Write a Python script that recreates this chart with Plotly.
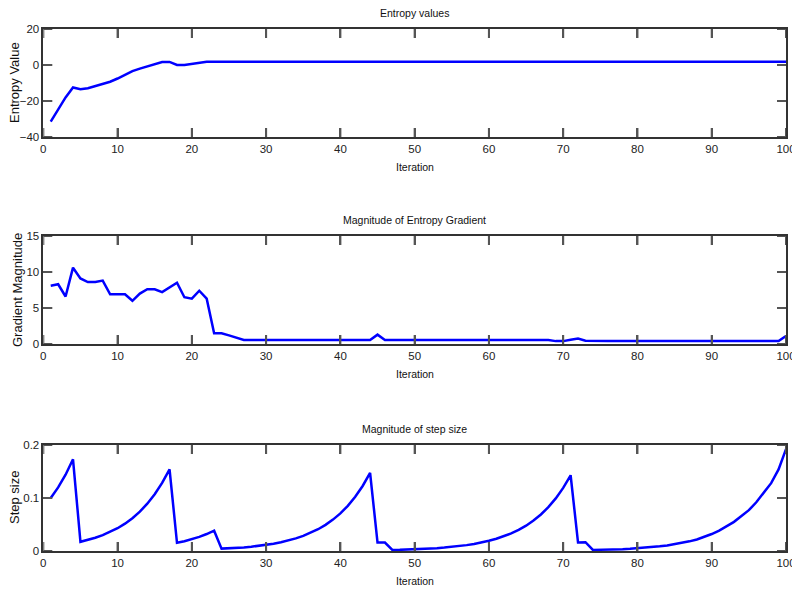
import plotly.graph_objects as go

# Optimisation trace: 100 iterations
iterations = list(range(1, 101))

entropy_values = [
    -31.5, -24.5, -18.0, -12.5, -13.5, -12.9, -11.7, -10.6, -9.3, -7.5,
    -5.6, -3.4, -2.0, -0.8, 0.5, 1.6, 1.7, 0.0, 0.0, 0.7,
    1.3, 1.8, 1.8, 1.8, 1.8, 1.8, 1.8, 1.8, 1.8, 1.8,
    1.8, 1.8, 1.8, 1.8, 1.8, 1.8, 1.8, 1.8, 1.8, 1.8,
    1.8, 1.8, 1.8, 1.8, 1.8, 1.8, 1.8, 1.8, 1.8, 1.8,
    1.8, 1.8, 1.8, 1.8, 1.8, 1.8, 1.8, 1.8, 1.8, 1.8,
    1.8, 1.8, 1.8, 1.8, 1.8, 1.8, 1.8, 1.8, 1.8, 1.8,
    1.8, 1.8, 1.8, 1.8, 1.8, 1.8, 1.8, 1.8, 1.8, 1.8,
    1.8, 1.8, 1.8, 1.8, 1.8, 1.8, 1.8, 1.8, 1.8, 1.8,
    1.8, 1.8, 1.8, 1.8, 1.8, 1.8, 1.8, 1.8, 1.8, 1.8,
]

gradient_magnitude = [
    8.1, 8.3, 6.6, 10.6, 9.1, 8.6, 8.6, 8.8, 6.9, 6.9,
    6.9, 6.0, 7.0, 7.6, 7.6, 7.2, 7.9, 8.5, 6.5, 6.3,
    7.4, 6.3, 1.5, 1.5, 1.2, 0.85, 0.55, 0.55, 0.55, 0.55,
    0.55, 0.55, 0.55, 0.55, 0.55, 0.55, 0.55, 0.55, 0.55, 0.55,
    0.55, 0.55, 0.55, 0.55, 1.3, 0.55, 0.55, 0.55, 0.55, 0.55,
    0.55, 0.55, 0.55, 0.55, 0.55, 0.55, 0.55, 0.55, 0.55, 0.55,
    0.55, 0.55, 0.55, 0.55, 0.55, 0.55, 0.55, 0.55, 0.4, 0.4,
    0.6, 0.75, 0.45, 0.4, 0.4, 0.4, 0.4, 0.4, 0.4, 0.4,
    0.4, 0.4, 0.4, 0.4, 0.4, 0.4, 0.4, 0.4, 0.4, 0.4,
    0.4, 0.4, 0.4, 0.4, 0.4, 0.4, 0.4, 0.4, 0.4, 1.1,
]

step_size = [
    0.1, 0.12, 0.144, 0.173,
    0.0173, 0.0207, 0.0249, 0.0299, 0.0358, 0.043, 0.0516, 0.0619,
    0.0743, 0.0892, 0.107, 0.1284, 0.1541,
    0.0154, 0.0185, 0.0222, 0.0266, 0.032, 0.0384,
    0.0045, 0.005, 0.0058, 0.0068, 0.008, 0.0096, 0.0115, 0.0138,
    0.0165, 0.0198, 0.0238, 0.0285, 0.0343, 0.0411, 0.0493, 0.0592,
    0.071, 0.0852, 0.1023, 0.1227, 0.1473,
    0.016, 0.016,
    0.002, 0.0022, 0.0026, 0.0031, 0.0037, 0.0045, 0.0054, 0.0064,
    0.0077, 0.0093, 0.0111, 0.0134, 0.016, 0.0192, 0.0231, 0.0277,
    0.0332, 0.0399, 0.0478, 0.0574, 0.0689, 0.0827, 0.0992, 0.1191, 0.1429,
    0.016, 0.0165,
    0.002, 0.0021, 0.0024, 0.0029, 0.0035, 0.0042, 0.0051, 0.0061,
    0.0073, 0.0088, 0.0105, 0.0126, 0.0152, 0.0182, 0.0218, 0.0262,
    0.032, 0.0385, 0.046, 0.055, 0.066, 0.077, 0.092, 0.109, 0.128,
    0.154, 0.192,
]

panel_titles = ["Entropy values", "Magnitude of Entropy Gradient", "Magnitude of step size"]
y_labels = ["Entropy Value", "Gradient Magnitude", "Step size"]
x_label = "Iteration"
x_ticks = [0, 10, 20, 30, 40, 50, 60, 70, 80, 90, 100]
x_range = [0, 100]
y_ticks = [[-40, -20, 0, 20], [0, 5, 10, 15], [0, 0.1, 0.2]]
y_ranges = [[-40, 20], [0, 15], [0, 0.2]]
series = [entropy_values, gradient_magnitude, step_size]

W, H = 792, 589
x_left, x_right = 43.3, 786.0
# (top, bottom) of each axes box, in pixels from the top of the figure
boxes = [(29, 137), (236, 344), (445, 551)]
TICK_LEN = 9  # px, drawn inward on all four sides of each box

FONT = "Liberation Sans, Arial, sans-serif"
AXIS_COLOR = "#333333"
TICK_COLOR = "#555555"

fig = go.Figure()
layout = dict(
    width=W, height=H, autosize=False,
    margin=dict(l=0, r=0, t=0, b=0, pad=0, autoexpand=False),
    paper_bgcolor="white", plot_bgcolor="white",
    showlegend=False,
    annotations=[], shapes=[],
)

x_dom = [x_left / W, x_right / W]
x_mid = (x_left + x_right) / 2 / W
# tick length converted to x data units
dx = TICK_LEN / (x_right - x_left) * (x_range[1] - x_range[0])

for i, (vals, (top, bot)) in enumerate(zip(series, boxes)):
    n = "" if i == 0 else str(i + 1)
    y0r, y1r = y_ranges[i]
    fig.add_trace(go.Scatter(
        x=iterations, y=vals, mode="lines",
        line=dict(color="#0000ff", width=2.5),
        xaxis="x" + n, yaxis="y" + n,
    ))
    common = dict(
        showgrid=False, zeroline=False,
        showline=True, linecolor=AXIS_COLOR, linewidth=1.5, mirror="ticks",
        ticks="inside", ticklen=TICK_LEN, tickwidth=2, tickcolor=TICK_COLOR,
        tickfont=dict(family=FONT, size=11.5, color="#222222"),
        ticklabeloverflow="allow",
    )
    layout["xaxis" + n] = dict(
        common, domain=x_dom, range=x_range, tickmode="array",
        tickvals=x_ticks, anchor="y" + n,
    )
    layout["yaxis" + n] = dict(
        common, domain=[1 - bot / H, 1 - top / H], range=y_ranges[i],
        tickmode="array", tickvals=y_ticks[i], anchor="x" + n,
    )

    # inward tick marks on all four edges, in data units of this panel
    dy = TICK_LEN / (bot - top) * (y1r - y0r)
    tick_style = dict(type="line", xref="x" + n, yref="y" + n,
                      line=dict(color=TICK_COLOR, width=2), layer="above")
    for xv in x_ticks:
        layout["shapes"].append(dict(tick_style, x0=xv, x1=xv, y0=y0r, y1=y0r + dy))
        layout["shapes"].append(dict(tick_style, x0=xv, x1=xv, y0=y1r, y1=y1r - dy))
    for yv in y_ticks[i]:
        layout["shapes"].append(dict(tick_style, x0=x_range[0], x1=x_range[0] + dx, y0=yv, y1=yv))
        layout["shapes"].append(dict(tick_style, x0=x_range[1], x1=x_range[1] - dx, y0=yv, y1=yv))

    # panel title above the box
    layout["annotations"].append(dict(
        text=panel_titles[i], xref="paper", yref="paper",
        x=x_mid, y=1 - (top - 16) / H, xanchor="center", yanchor="middle",
        showarrow=False, font=dict(family=FONT, size=10.5, color="#111111"),
    ))
    # x-axis label under the tick labels
    layout["annotations"].append(dict(
        text=x_label, xref="paper", yref="paper",
        x=x_mid, y=1 - (bot + 30) / H, xanchor="center", yanchor="middle",
        showarrow=False, font=dict(family=FONT, size=10.5, color="#111111"),
    ))
    # rotated y-axis label
    ylab_x = 17 if i == 1 else 14
    layout["annotations"].append(dict(
        text=y_labels[i], xref="paper", yref="paper",
        x=ylab_x / W, y=1 - (top + bot) / 2 / H, xanchor="center", yanchor="middle",
        textangle=-90, showarrow=False,
        font=dict(family=FONT, size=13, color="#111111"),
    ))

fig.update_layout(**layout)
fig.write_html("out.html")
